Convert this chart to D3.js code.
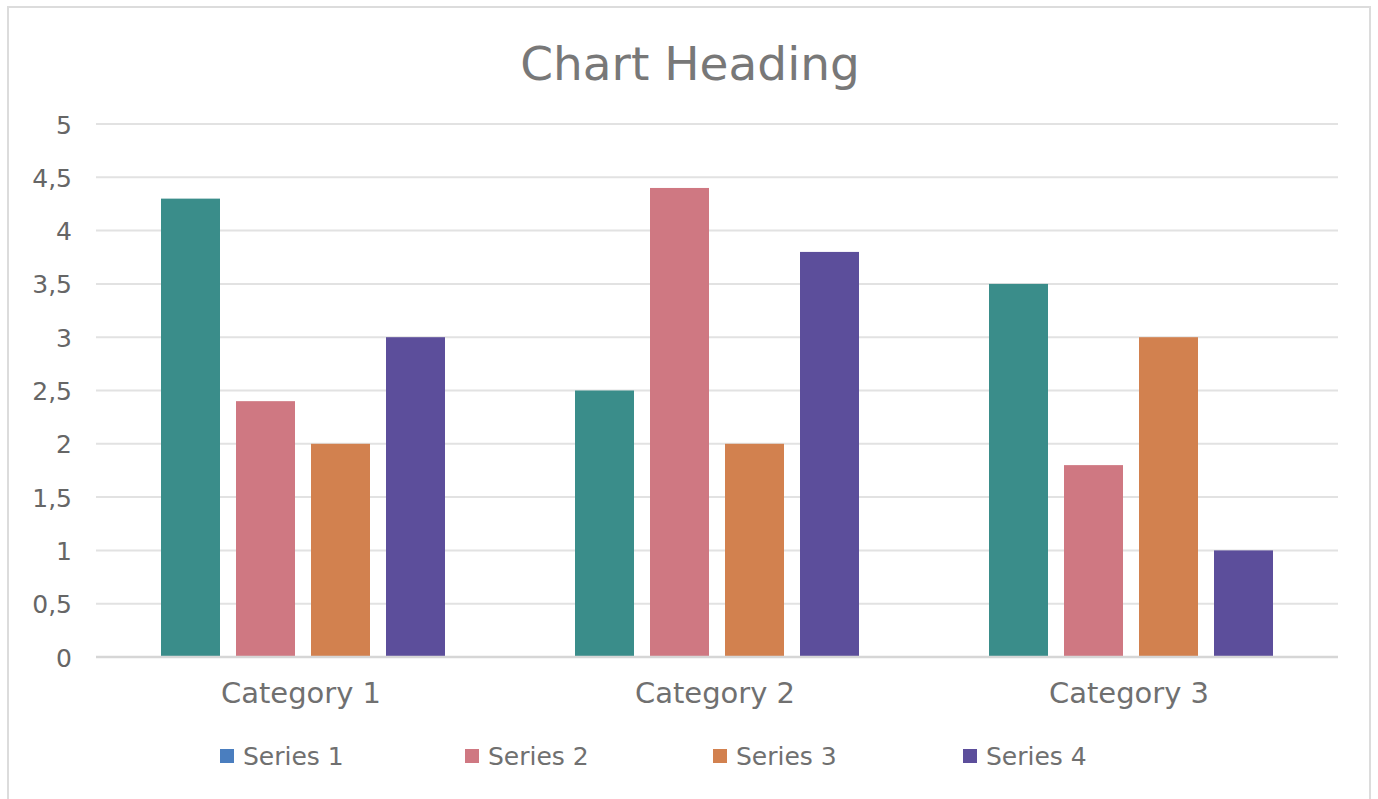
<!DOCTYPE html>
<html><head><meta charset="utf-8">
<script src="https://cdn.jsdelivr.net/npm/d3@7"></script>
<style>
html,body{margin:0;padding:0;background:#fff;}
text{font-family:"DejaVu Sans","Noto Sans",sans-serif;}
</style></head>
<body><svg id="c" width="1378" height="799"></svg>
<script>
const categories = ["Category 1","Category 2","Category 3"];
const seriesNames = ["Series 1","Series 2","Series 3","Series 4"];
const series1 = [4.3, 2.5, 3.5];
const series2 = [2.4, 4.4, 1.8];
const series3 = [2, 2, 3];
const series4 = [3, 3.8, 1];
const yTicks = [0,0.5,1,1.5,2,2.5,3,3.5,4,4.5,5];
const tickLabels = ["0","0,5","1","1,5","2","2,5","3","3,5","4","4,5","5"];
const barColors = ["#3a8d8a","#cf7882","#d2814f","#5c4e9b"];
const legendColors = ["#4a7ebf","#cf7882","#d2814f","#5c4e9b"];

(function(){
const allSeries = [series1, series2, series3, series4];
const svg = d3.select("#c");
svg.append("rect").attr("x",8).attr("y",7).attr("width",1362).attr("height",800)
  .attr("fill","#fff").attr("stroke","#dcdcdc").attr("stroke-width",2);

const pl=96, pr=1338, pt=124, pb=657;
const y = d3.scaleLinear().domain([0,5]).range([pb, pt]);
const x0 = d3.scaleBand().domain(categories).range([pl,pr]).paddingInner(0).paddingOuter(0);
const x1 = d3.scaleBand().domain(seriesNames).range([65, 414-65]).paddingInner(16/75).paddingOuter(0);

svg.append("g").selectAll("line").data(yTicks.slice(1)).join("line")
  .attr("x1",pl).attr("x2",pr).attr("y1",d=>y(d)).attr("y2",d=>y(d))
  .attr("stroke","#e2e2e2").attr("stroke-width",2);

const yAxis = d3.axisLeft(y).tickValues(yTicks).tickFormat((d,i)=>tickLabels[i]).tickSize(0).tickPadding(0);
const ya = svg.append("g").attr("transform",`translate(72,0)`).call(yAxis);
ya.select(".domain").remove();
ya.selectAll("text").attr("font-size",25).attr("fill","#666666").attr("dy","0.36em")
  .style("font-family","'DejaVu Sans',sans-serif");

const groups = svg.append("g").selectAll("g").data(categories).join("g")
  .attr("transform",d=>`translate(${x0(d)},0)`);
groups.selectAll("rect").data((c,ci)=>seriesNames.map((s,si)=>({s,si,v:allSeries[si][ci]}))).join("rect")
  .attr("x",d=>x1(d.s)).attr("width",x1.bandwidth())
  .attr("y",d=>y(d.v)).attr("height",d=>pb-y(d.v))
  .attr("fill",d=>barColors[d.si]);

const xAxis = d3.axisBottom(x0).tickSize(0).tickPadding(0);
const xa = svg.append("g").attr("transform",`translate(0,${pb})`).call(xAxis);
xa.select(".domain").attr("stroke","#d6d6d6").attr("stroke-width",2.5).attr("d",`M${pl},0H${pr}`);
xa.selectAll("text").attr("x",-2).attr("y",36).attr("dy","0.36em").attr("font-size",29).attr("fill","#707070")
  .style("font-family","'DejaVu Sans',sans-serif");

svg.append("text").attr("x",690).attr("y",80).attr("text-anchor","middle")
  .attr("font-size",47).attr("fill","#787878").text("Chart Heading");

const legX = [220, 465, 713, 963];
const lg = svg.append("g").selectAll("g").data(seriesNames).join("g")
  .attr("transform",(d,i)=>`translate(${legX[i]},749)`);
lg.append("rect").attr("width",14).attr("height",14).attr("fill",(d,i)=>legendColors[i]);
lg.append("text").attr("x",23).attr("y",7).attr("dy","0.36em").attr("font-size",25)
  .attr("fill","#707070").text(d=>d);
})();
</script></body></html>
